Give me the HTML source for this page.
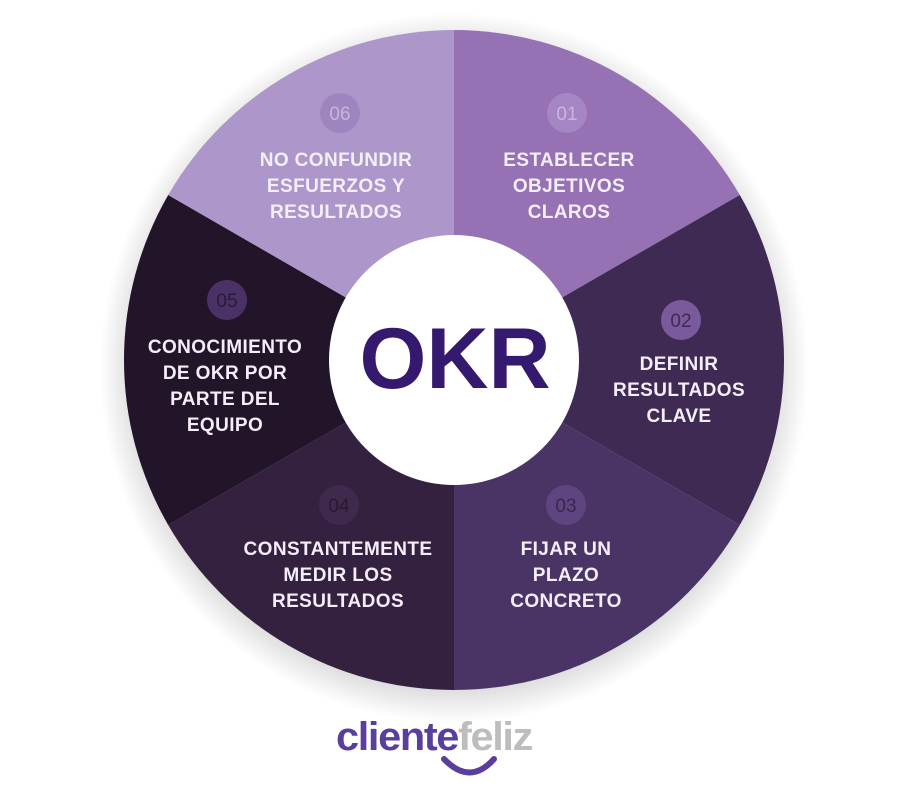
<!DOCTYPE html>
<html><head><meta charset="utf-8"><style>
html,body{margin:0;padding:0;background:#fff;width:908px;height:812px;overflow:hidden}
svg{display:block}
.t{font-family:"Liberation Sans",sans-serif;font-weight:bold;font-size:19px;fill:#f4eef8;text-anchor:middle;letter-spacing:0.4px}
.n{font-family:"Liberation Sans",sans-serif;font-size:19px;text-anchor:middle}
</style></head><body>
<svg width="908" height="812" viewBox="0 0 908 812">
<defs>
<radialGradient id="sh" cx="50%" cy="50%" r="50%">
<stop offset="0.9" stop-color="#000" stop-opacity="0.14"/>
<stop offset="1" stop-color="#000" stop-opacity="0"/>
</radialGradient>
</defs>
<circle cx="454" cy="368" r="355" fill="url(#sh)"/>
<path d="M454,360 L454,30 A330,330 0 0 1 739.8,195 Z" fill="#9671b4"/>
<path d="M454,360 L739.8,195 A330,330 0 0 1 739.8,525 Z" fill="#3f2a53"/>
<path d="M454,360 L739.8,525 A330,330 0 0 1 454,690 Z" fill="#4a3465"/>
<path d="M454,360 L454,690 A330,330 0 0 1 168.2,525 Z" fill="#34203f"/>
<path d="M454,360 L168.2,525 A330,330 0 0 1 168.2,195 Z" fill="#221529"/>
<path d="M454,360 L168.2,195 A330,330 0 0 1 454,30 Z" fill="#ad97ca"/>
<circle cx="454" cy="360" r="125" fill="#fff"/>
<text x="455" y="388" font-family="Liberation Sans,sans-serif" font-weight="bold" font-size="86" fill="#34196e" text-anchor="middle">OKR</text>

<circle cx="567" cy="113" r="20" fill="#a585c4"/><text class="n" x="567" y="120" fill="#c9b5df">01</text>
<text class="t" x="569" y="166">ESTABLECER</text><text class="t" x="569" y="192">OBJETIVOS</text><text class="t" x="569" y="218">CLAROS</text>

<circle cx="681" cy="320" r="20" fill="#7a5a9c"/><text class="n" x="681" y="327" fill="#3f2a53">02</text>
<text class="t" x="679" y="370">DEFINIR</text><text class="t" x="679" y="396">RESULTADOS</text><text class="t" x="679" y="422">CLAVE</text>

<circle cx="566" cy="505" r="20" fill="#5e4580"/><text class="n" x="566" y="512" fill="#3b2650">03</text>
<text class="t" x="566" y="555">FIJAR UN</text><text class="t" x="566" y="581">PLAZO</text><text class="t" x="566" y="607">CONCRETO</text>

<circle cx="339" cy="505" r="20" fill="#3f2a4e"/><text class="n" x="339" y="512" fill="#2a1832">04</text>
<text class="t" x="338" y="555">CONSTANTEMENTE</text><text class="t" x="338" y="581">MEDIR LOS</text><text class="t" x="338" y="607">RESULTADOS</text>

<circle cx="227" cy="300" r="20" fill="#4b3266"/><text class="n" x="227" y="307" fill="#2a1a3a">05</text>
<text class="t" x="225" y="353">CONOCIMIENTO</text><text class="t" x="225" y="379">DE OKR POR</text><text class="t" x="225" y="405">PARTE DEL</text><text class="t" x="225" y="431">EQUIPO</text>

<circle cx="340" cy="113" r="20" fill="#9f85c0"/><text class="n" x="340" y="120" fill="#c7b6dc">06</text>
<text class="t" x="336" y="166">NO CONFUNDIR</text><text class="t" x="336" y="192">ESFUERZOS Y</text><text class="t" x="336" y="218">RESULTADOS</text>

<text x="336" y="750" font-family="Liberation Sans,sans-serif" font-weight="bold" font-size="40" letter-spacing="-1.3" textLength="196" lengthAdjust="spacingAndGlyphs"><tspan fill="#5a3e9e">cliente</tspan><tspan fill="#bdbdbd">feliz</tspan></text>
<path d="M444,759 Q470,786 494,759" fill="none" stroke="#5a3e9e" stroke-width="6" stroke-linecap="round"/>
</svg>
</body></html>
